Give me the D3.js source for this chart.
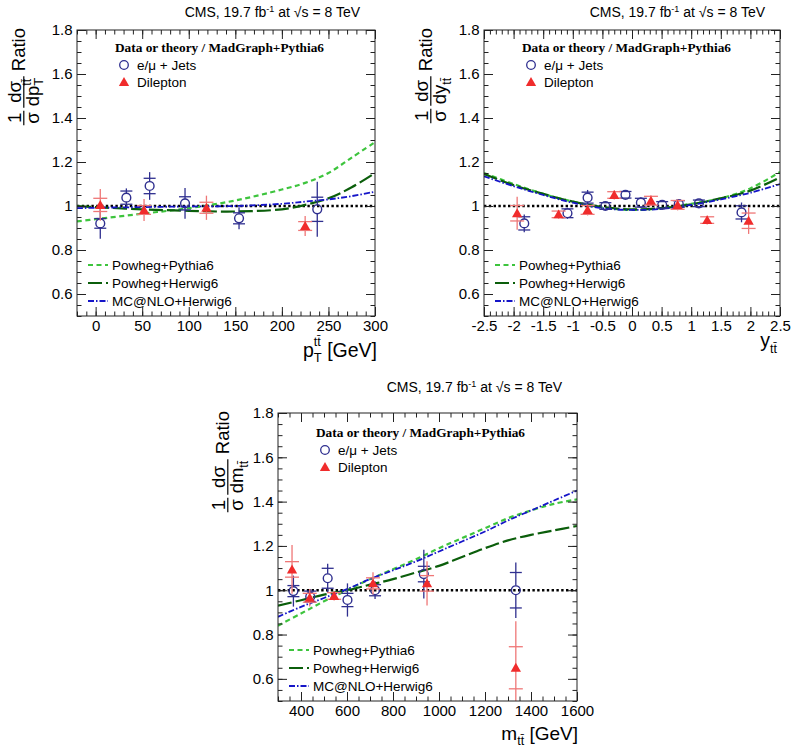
<!DOCTYPE html>
<html><head><meta charset="utf-8">
<script src="https://cdn.jsdelivr.net/npm/d3@7"></script>
<style>
body{margin:0;background:#fff}
svg{display:block}
text{font-family:"Liberation Sans",Arial,Helvetica,sans-serif;fill:#000;white-space:pre}
</style>
</head><body>
<svg id="c" width="793" height="749"></svg>
<script>
// ---------------- DATA ----------------
// Panel 1: pT(ttbar)
const ptLjX    = [5, 33, 58, 96, 154, 238];
const ptLjY    = [0.921, 1.038, 1.091, 1.012, 0.944, 0.985];
const ptLjTot  = [0.07, 0.042, 0.063, 0.07, 0.05, 0.125];
const ptLjStat = [0.022, 0.03, 0.035, 0.03, 0.025, 0.055];
const ptDiX    = [5, 52, 119, 225];
const ptDiY    = [1.005, 0.982, 0.992, 0.909];
const ptDiTot  = [0.072, 0.05, 0.055, 0.045];
const ptDiStat = [0.03, 0.02, 0.025, 0.02];
const ptCurveX = [-20, 0, 50, 100, 150, 200, 225, 250, 275, 300];
const ptPowPy  = [0.93, 0.94, 0.965, 0.99, 1.025, 1.075, 1.105, 1.15, 1.22, 1.29];
const ptPowHw  = [1.0, 0.995, 0.985, 0.978, 0.975, 0.985, 1.005, 1.035, 1.085, 1.15];
const ptMcHw   = [0.99, 0.992, 0.995, 0.998, 1.0, 1.01, 1.02, 1.03, 1.045, 1.065];

// Panel 2: y(ttbar)
const yLjX    = [-1.82, -1.09, -0.75, -0.45, -0.11, 0.15, 0.51, 0.79, 1.13, 1.85];
const yLjY    = [0.921, 0.967, 1.038, 1.0, 1.051, 1.015, 1.005, 1.009, 1.012, 0.971];
const yLjTot  = [0.04, 0.025, 0.035, 0.02, 0.02, 0.025, 0.02, 0.02, 0.02, 0.045];
const yLjStat = [0.03, 0.02, 0.025, 0.015, 0.015, 0.02, 0.015, 0.015, 0.015, 0.03];
const yDiX    = [-1.94, -1.24, -0.75, -0.30, 0.32, 0.77, 1.27, 1.97];
const yDiY    = [0.967, 0.962, 0.982, 1.05, 1.024, 1.005, 0.936, 0.933];
const yDiTot  = [0.075, 0.02, 0.025, 0.02, 0.025, 0.025, 0.02, 0.06];
const yDiStat = [0.035, 0.015, 0.02, 0.015, 0.02, 0.02, 0.015, 0.035];
const yCurveX = [-2.5, -2, -1.5, -1, -0.5, 0, 0.5, 1, 1.5, 2, 2.5];
const yPowPy  = [1.15, 1.10, 1.055, 1.02, 0.993, 0.982, 0.99, 1.01, 1.035, 1.08, 1.155];
const yPowHw  = [1.145, 1.095, 1.055, 1.02, 0.995, 0.985, 0.99, 1.008, 1.035, 1.07, 1.13];
const yMcHw   = [1.135, 1.09, 1.05, 1.015, 0.99, 0.982, 0.987, 1.005, 1.03, 1.06, 1.10];

// Panel 3: m(ttbar)
const mLjX    = [367, 440, 516, 602, 722, 934, 1334];
const mLjY    = [0.996, 0.971, 1.054, 0.956, 1.0, 1.073, 1.0];
const mLjTot  = [0.07, 0.035, 0.065, 0.075, 0.04, 0.11, 0.125];
const mLjStat = [0.025, 0.025, 0.045, 0.03, 0.025, 0.035, 0.08];
const mDiX    = [361, 438, 544, 713, 948, 1334];
const mDiY    = [1.094, 0.966, 0.974, 1.031, 1.031, 0.65];
const mDiTot  = [0.11, 0.04, 0.02, 0.05, 0.1, 0.21];
const mDiStat = [0.035, 0.02, 0.015, 0.025, 0.035, 0.095];
const mCurveX = [300, 400, 500, 600, 700, 800, 900, 1000, 1100, 1200, 1300, 1400, 1500, 1600];
const mPowPy  = [0.84, 0.895, 0.95, 1.0, 1.05, 1.095, 1.14, 1.19, 1.235, 1.28, 1.325, 1.36, 1.39, 1.41];
const mPowHw  = [0.93, 0.955, 0.98, 1.0, 1.025, 1.05, 1.08, 1.11, 1.15, 1.19, 1.225, 1.25, 1.27, 1.29];
const mMcHw   = [0.88, 0.925, 0.965, 1.005, 1.05, 1.09, 1.13, 1.175, 1.22, 1.265, 1.315, 1.36, 1.405, 1.45];

const yTickVals = [0.6, 0.8, 1.0, 1.2, 1.4, 1.6, 1.8];
const legendHeader = "Data or theory / MadGraph+Pythia6";
const dataNames = ["e/\u03bc + Jets", "Dilepton"];
const curveNames = ["Powheg+Pythia6", "Powheg+Herwig6", "MC@NLO+Herwig6"];
const titleMain = "CMS, 19.7 fb";

// ---------------- STYLE ----------------
const C_LJ = "#2f2f8f", C_DI = "#f02c2c", C_DIERR = "#ef7777";
const curveStyles = [
  {color:"#3dc43d", dash:"5,3.5", w:2.2},
  {color:"#0b5e0b", dash:"14,4", w:2.2},
  {color:"#1515c8", dash:"6,2,1.5,2", w:1.8}
];

const svg = d3.select("#c");
let clipId = 0;

function pieces(g, arr, baseline) {
  const gg = g.append("g");
  let x = 0, prevX = 0;
  arr.forEach(p => {
    const sx = p.stack ? prevX : x;
    const t = gg.append("text").attr("x", sx).attr("y", baseline + (p.dy || 0))
      .style("font-size", p.fs + "px").text(p.t);
    const w = t.node().getComputedTextLength();
    prevX = sx;
    x = Math.max(x, sx + w);
  });
  return {gg, w: x};
}
function fraction(g, right, num, den) {
  const n = pieces(g, num, -4.5);
  const d = pieces(g, den, 14);
  const w = Math.max(n.w, d.w) + 3;
  const cx = right - w / 2;
  n.gg.attr("transform", `translate(${cx - n.w / 2},0)`);
  d.gg.attr("transform", `translate(${cx - d.w / 2},0)`);
  g.append("line").attr("x1", right - w).attr("x2", right).attr("y1", -1.2).attr("y2", -1.2)
    .attr("stroke", "#000").attr("stroke-width", 1.2);
  return right - w;
}

function panel(cfg) {
  const x = d3.scaleLinear().domain(cfg.xDomain).range([cfg.x0, cfg.x1]);
  const y = d3.scaleLinear().domain([0.5, 1.8]).range([cfg.y1, cfg.y0]);
  const root = svg.append("g");
  const id = "clip" + (clipId++);
  root.append("clipPath").attr("id", id).append("rect")
    .attr("x", cfg.x0).attr("y", cfg.y0).attr("width", cfg.x1 - cfg.x0).attr("height", cfg.y1 - cfg.y0);
  const plot = root.append("g").attr("clip-path", `url(#${id})`);

  // reference line at 1
  plot.append("line").attr("x1", cfg.x0).attr("x2", cfg.x1).attr("y1", y(1)).attr("y2", y(1))
    .attr("stroke", "#000").attr("stroke-width", 2.6).attr("stroke-dasharray", "2.4,2.4");

  // theory curves
  const line = d3.line().x(d => x(d[0])).y(d => y(d[1])).curve(d3.curveCatmullRom);
  cfg.curves.forEach((vals, i) => {
    const s = curveStyles[i];
    plot.append("path").datum(cfg.curveX.map((v, k) => [v, vals[k]]))
      .attr("d", line).attr("fill", "none").attr("stroke", s.color)
      .attr("stroke-width", s.w).attr("stroke-dasharray", s.dash);
  });

  const R = 4.4;
  // lepton+jets data (open circles)
  cfg.lj.x.forEach((xv, i) => {
    const cx = x(xv), cy = y(cfg.lj.y[i]);
    const top = y(cfg.lj.y[i] + cfg.lj.tot[i]), bot = y(cfg.lj.y[i] - cfg.lj.tot[i]);
    const g = plot.append("g").attr("stroke", C_LJ).attr("stroke-width", 1.3);
    if (cy - R > top) g.append("line").attr("x1", cx).attr("x2", cx).attr("y1", top).attr("y2", cy - R);
    if (cy + R < bot) g.append("line").attr("x1", cx).attr("x2", cx).attr("y1", cy + R).attr("y2", bot);
    [cfg.lj.y[i] + cfg.lj.stat[i], cfg.lj.y[i] - cfg.lj.stat[i]].forEach(v => {
      g.append("line").attr("x1", cx - 6).attr("x2", cx + 6).attr("y1", y(v)).attr("y2", y(v));
    });
    g.append("circle").attr("cx", cx).attr("cy", cy).attr("r", R).attr("fill", "none").attr("stroke-width", 1.4);
  });
  // dilepton data (filled triangles)
  const tri = d3.symbol(d3.symbolTriangle).size(46);
  cfg.di.x.forEach((xv, i) => {
    const cx = x(xv), cy = y(cfg.di.y[i]);
    const g = plot.append("g").attr("stroke", C_DIERR).attr("stroke-width", 1.3);
    g.append("line").attr("x1", cx).attr("x2", cx)
      .attr("y1", y(cfg.di.y[i] + cfg.di.tot[i])).attr("y2", y(cfg.di.y[i] - cfg.di.tot[i]));
    [cfg.di.y[i] + cfg.di.stat[i], cfg.di.y[i] - cfg.di.stat[i]].forEach(v => {
      g.append("line").attr("x1", cx - 7).attr("x2", cx + 7).attr("y1", y(v)).attr("y2", y(v));
    });
    plot.append("path").attr("d", tri).attr("transform", `translate(${cx},${cy + 1})`).attr("fill", C_DI);
  });

  // axes (ticks inside, on all four sides)
  const fmt = v => String(+v.toFixed(2));
  const axG = root.append("g").attr("stroke-width", 1);
  const minorX = d3.range(cfg.xMinor[0], cfg.xMinor[1] + 1e-9, cfg.xMinor[2]).map(v => +v.toFixed(3));
  const minorY = d3.range(0.5, 1.8001, 0.05).map(v => +v.toFixed(3));
  const addAxis = (gen, tr, vals, size, labels) => {
    const a = axG.append("g").attr("transform", tr)
      .call(gen.tickValues(vals).tickSizeInner(-size).tickSizeOuter(0).tickPadding(labels ? 4 : 0)
        .tickFormat(labels ? fmt : ""));
    a.select(".domain").remove();
    a.selectAll(".tick line").attr("stroke", "#222");
    a.selectAll("text").style("font-size", "15px").attr("fill", "#000");
    return a;
  };
  addAxis(d3.axisBottom(x), `translate(0,${cfg.y1})`, minorX, 4.5, false);
  addAxis(d3.axisTop(x), `translate(0,${cfg.y0})`, minorX, 4.5, false);
  addAxis(d3.axisBottom(x), `translate(0,${cfg.y1})`, cfg.xMajor, 9, true);
  addAxis(d3.axisTop(x), `translate(0,${cfg.y0})`, cfg.xMajor, 9, false);
  addAxis(d3.axisLeft(y), `translate(${cfg.x0},0)`, minorY, 4.5, false);
  addAxis(d3.axisRight(y), `translate(${cfg.x1},0)`, minorY, 4.5, false);
  addAxis(d3.axisLeft(y), `translate(${cfg.x0},0)`, yTickVals, 9, true).selectAll("text").attr("dx", "-0.5");
  addAxis(d3.axisRight(y), `translate(${cfg.x1},0)`, yTickVals, 9, false);
  root.append("rect").attr("x", cfg.x0).attr("y", cfg.y0).attr("width", cfg.x1 - cfg.x0)
    .attr("height", cfg.y1 - cfg.y0).attr("fill", "none").attr("stroke", "#222").attr("stroke-width", 1);

  // title
  const t = root.append("text").attr("x", cfg.x1 - 15).attr("y", cfg.titleY).attr("text-anchor", "end")
    .style("font-size", "14px");
  t.append("tspan").text(titleMain);
  t.append("tspan").attr("dy", -5).style("font-size", "9px").text("-1");
  t.append("tspan").attr("dy", 5).text(" at \u221as = 8 TeV");

  // legend (data)
  const lx = cfg.x0, ly = cfg.y0;
  root.append("text").attr("x", lx + 38).attr("y", ly + cfg.legDy + 22)
    .style("font-family", "'Liberation Serif','Times New Roman',serif").style("font-weight", "bold")
    .style("font-size", "13.3px").text(legendHeader);
  root.append("circle").attr("cx", lx + 47).attr("cy", ly + cfg.legDy + 35).attr("r", 4.3)
    .attr("fill", "none").attr("stroke", C_LJ).attr("stroke-width", 1.3);
  root.append("path").attr("d", tri).attr("transform", `translate(${lx + 47},${ly + cfg.legDy + 53})`).attr("fill", C_DI);
  dataNames.forEach((n, i) => {
    root.append("text").attr("x", lx + 60).attr("y", ly + cfg.legDy + 35 + i * 17).attr("dy", "0.36em")
      .style("font-size", "13.5px").text(n);
  });
  // legend (curves)
  curveNames.forEach((n, i) => {
    const yy = cfg.y1 - 51 + i * 18;
    const s = curveStyles[i];
    root.append("line").attr("x1", lx + 11).attr("x2", lx + 31).attr("y1", yy).attr("y2", yy)
      .attr("stroke", s.color).attr("stroke-width", s.w).attr("stroke-dasharray", s.dash);
    root.append("text").attr("x", lx + 35).attr("y", yy).attr("dy", "0.36em")
      .style("font-size", "13.5px").text(n);
  });

  // x title
  const xt = root.append("g");
  const xp = pieces(xt, cfg.xTitle, 0);
  xp.gg.attr("transform", `translate(${cfg.xTitleRight - xp.w},${cfg.xTitleY})`);

  // y title (rotated)
  const yg = root.append("g").attr("transform", `translate(${cfg.x0 - cfg.yTitleOff},${cfg.y0 - 2}) rotate(-90)`);
  const rt = yg.append("text").attr("x", 0).attr("y", 0).attr("text-anchor", "end")
    .style("font-size", "18.5px").text("Ratio");
  let cur = -rt.node().getComputedTextLength() - 5;
  cur = fraction(yg, cur, [{t: "d\u03c3", fs: 18.5}], cfg.yDen);
  cur -= 3;
  fraction(yg, cur, [{t: "1", fs: 18.5}], [{t: "\u03c3", fs: 18.5}]);
}

const TT = "tt\u0304";
panel({
  x0: 77, x1: 375, y0: 30, y1: 316, xDomain: [-20, 300],
  xMajor: [0, 50, 100, 150, 200, 250, 300], xMinor: [-20, 300, 10],
  curveX: ptCurveX, curves: [ptPowPy, ptPowHw, ptMcHw],
  lj: {x: ptLjX, y: ptLjY, tot: ptLjTot, stat: ptLjStat},
  di: {x: ptDiX, y: ptDiY, tot: ptDiTot, stat: ptDiStat},
  titleY: 17, legDy: 0,
  xTitle: [{t: "p", fs: 19.5}, {t: "T", fs: 13, dy: 5}, {t: TT, fs: 12.5, dy: -11, stack: true}, {t: "\u00a0[GeV]", fs: 19.5}],
  xTitleRight: 377, xTitleY: 357,
  yTitleOff: 52,
  yDen: [{t: "dp", fs: 18.5}, {t: "T", fs: 13, dy: 4}, {t: TT, fs: 12, dy: -8, stack: true}]
});
panel({
  x0: 484, x1: 780, y0: 30, y1: 316, xDomain: [-2.5, 2.5],
  xMajor: [-2.5, -2, -1.5, -1, -0.5, 0, 0.5, 1, 1.5, 2, 2.5], xMinor: [-2.5, 2.5, 0.1],
  curveX: yCurveX, curves: [yPowPy, yPowHw, yMcHw],
  lj: {x: yLjX, y: yLjY, tot: yLjTot, stat: yLjStat},
  di: {x: yDiX, y: yDiY, tot: yDiTot, stat: yDiStat},
  titleY: 17, legDy: 0,
  xTitle: [{t: "y", fs: 19.5}, {t: TT, fs: 12.5, dy: 6}],
  xTitleRight: 777, xTitleY: 347,
  yTitleOff: 52,
  yDen: [{t: "dy", fs: 18.5}, {t: TT, fs: 12.5, dy: 5}]
});
panel({
  x0: 278, x1: 577, y0: 413, y1: 701, xDomain: [300, 1600],
  xMajor: [400, 600, 800, 1000, 1200, 1400, 1600], xMinor: [300, 1600, 50],
  curveX: mCurveX, curves: [mPowPy, mPowHw, mMcHw],
  lj: {x: mLjX, y: mLjY, tot: mLjTot, stat: mLjStat},
  di: {x: mDiX, y: mDiY, tot: mDiTot, stat: mDiStat},
  titleY: 392, legDy: 2,
  xTitle: [{t: "m", fs: 19}, {t: TT, fs: 12.5, dy: 5}, {t: "\u00a0[GeV]", fs: 19}],
  xTitleRight: 578, xTitleY: 740,
  yTitleOff: 49,
  yDen: [{t: "dm", fs: 18.5}, {t: TT, fs: 12.5, dy: 5}]
});
</script>
</body></html>
